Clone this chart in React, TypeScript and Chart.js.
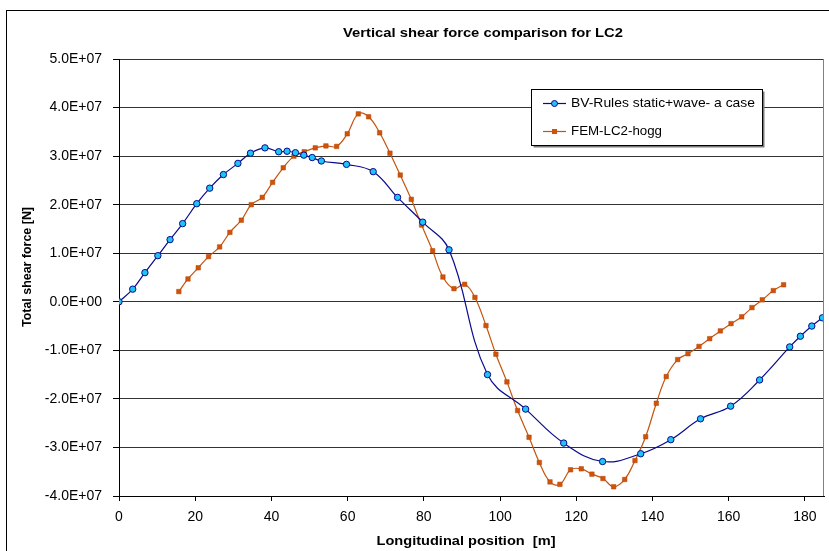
import React, { useEffect, useRef } from "react";
import { Chart, registerables } from "chart.js";

Chart.register(...registerables);

const chartTitle = "Vertical shear force comparison for LC2";
const xTitle = "Longitudinal position  [m]";
const yTitle = "Total shear force [N]";
const bvName = "BV-Rules static+wave- a case";
const femName = "FEM-LC2-hogg";

const bvX = [0, 3.6, 6.8, 10.2, 13.4, 16.7, 20.4, 23.8, 27.4, 31.2, 34.5, 38.3, 41.9, 44.1, 46.3, 48.5, 50.7, 53.1, 59.7, 66.7, 73.1, 79.7, 86.6, 96.7, 106.7, 116.7, 126.9, 136.9, 144.8, 152.6, 160.5, 168.1, 176.0, 178.8, 181.8, 184.6];
const bvY = [0, 2.6e6, 6.0e6, 9.5e6, 12.8e6, 16.1e6, 20.2e6, 23.4e6, 26.2e6, 28.5e6, 30.6e6, 31.7e6, 30.9e6, 31.0e6, 30.7e6, 30.2e6, 29.7e6, 29.0e6, 28.3e6, 26.8e6, 21.5e6, 16.4e6, 10.7e6, -15.0e6, -22.1e6, -29.1e6, -32.9e6, -31.3e6, -28.4e6, -24.1e6, -21.5e6, -16.1e6, -9.3e6, -7.1e6, -5.0e6, -3.3e6];

const femX = [15.7, 18.1, 20.8, 23.5, 26.4, 29.1, 32.1, 34.7, 37.6, 40.3, 43.1, 45.9, 48.6, 51.5, 54.3, 57.1, 59.9, 62.8, 65.5, 68.4, 71.1, 73.8, 76.7, 79.4, 82.3, 85.0, 87.9, 90.7, 93.4, 96.3, 98.9, 101.8, 104.6, 107.6, 110.3, 113.1, 115.7, 118.5, 121.3, 124.1, 127.0, 129.8, 132.7, 135.4, 138.2, 141.0, 143.6, 146.6, 149.3, 152.2, 155.0, 157.8, 160.6, 163.4, 166.1, 168.8, 171.7, 174.4];
const femY = [2.1e6, 4.7e6, 7.0e6, 9.3e6, 11.3e6, 14.3e6, 16.8e6, 20.0e6, 21.5e6, 24.6e6, 27.6e6, 30.0e6, 30.9e6, 31.7e6, 32.1e6, 32.0e6, 34.6e6, 38.7e6, 38.1e6, 34.8e6, 30.6e6, 26.1e6, 21.1e6, 15.8e6, 10.5e6, 5.1e6, 2.7e6, 3.6e6, 0.9e6, -4.9e6, -10.8e6, -16.5e6, -22.4e6, -27.9e6, -33.1e6, -37.1e6, -37.6e6, -34.6e6, -34.4e6, -35.5e6, -36.4e6, -38.1e6, -36.6e6, -32.7e6, -27.8e6, -20.9e6, -15.4e6, -11.9e6, -10.7e6, -9.2e6, -7.6e6, -6.0e6, -4.5e6, -3.1e6, -1.2e6, 0.4e6, 2.3e6, 3.5e6];

const xMin = 0;
const xMax = 185;
const xStep = 20;
const yMin = -4e7;
const yMax = 5e7;
const yStep = 1e7;

const BV_LINE = "#0a0a8c";
const BV_FILL = "#1ec4f4";
const FEM_LINE = "#c4540e";
const FEM_FILL = "#cf5308";
const FONT = "'Liberation Sans', Arial, sans-serif";

function sci(v: number): string {
  if (v === 0) return "0.0E+00";
  const e = Math.floor(Math.log10(Math.abs(v)) + 1e-9);
  const m = v / Math.pow(10, e);
  const es = (e < 0 ? "-" : "+") + String(Math.abs(e)).padStart(2, "0");
  return m.toFixed(1) + "E" + es;
}

function fitText(ctx: CanvasRenderingContext2D, text: string, x: number, y: number, font: string, width: number, align: CanvasTextAlign, rot = 0) {
  ctx.save();
  ctx.font = font;
  const m = ctx.measureText(text).width;
  ctx.translate(x, y);
  if (rot) ctx.rotate(rot);
  ctx.scale(width / m, 1);
  ctx.textAlign = align;
  ctx.textBaseline = "middle";
  ctx.fillStyle = "#000";
  ctx.fillText(text, 0, 0);
  ctx.restore();
}

const decorPlugin = {
  id: "decor",
  beforeDraw(chart: any) {
    const ctx = chart.ctx;
    ctx.save();
    ctx.fillStyle = "#fff";
    ctx.fillRect(0, 0, chart.width, chart.height);
    ctx.restore();
  },
  afterDraw(chart: any) {
    const ctx: CanvasRenderingContext2D = chart.ctx;
    const a = chart.chartArea;
    ctx.save();
    ctx.strokeStyle = "#808080";
    ctx.lineWidth = 1;
    ctx.beginPath();
    ctx.moveTo(Math.round(a.right) - 0.5, a.top);
    ctx.lineTo(Math.round(a.right) - 0.5, a.bottom);
    ctx.stroke();
    ctx.strokeStyle = "#000";
    ctx.strokeRect(6.5, 10.5, 1000, 1000);
    ctx.restore();

    fitText(ctx, chartTitle, 483, 33, `bold 13px ${FONT}`, 280, "center");
    fitText(ctx, xTitle, 466, 541, `bold 13px ${FONT}`, 179, "center");
    fitText(ctx, yTitle, 28, 267, `bold 12.5px ${FONT}`, 120, "center", -Math.PI / 2);

    const lx = 531.5, ly = 89.5, lw = 231, lh = 56;
    ctx.save();
    ctx.fillStyle = "#7a7a7a";
    ctx.fillRect(lx + 2, ly + 2, lw, lh);
    ctx.fillStyle = "#fff";
    ctx.fillRect(lx, ly, lw, lh);
    ctx.strokeStyle = "#000";
    ctx.lineWidth = 1;
    ctx.strokeRect(lx, ly, lw, lh);
    const rows = [
      { y: 103.5, line: BV_LINE, fill: BV_FILL, shape: "circle", text: bvName, w: 184 },
      { y: 131.5, line: FEM_LINE, fill: FEM_FILL, shape: "rect", text: femName, w: 91 },
    ];
    for (const r of rows) {
      ctx.strokeStyle = r.line;
      ctx.lineWidth = 1.2;
      ctx.beginPath();
      ctx.moveTo(543, r.y);
      ctx.lineTo(566, r.y);
      ctx.stroke();
      ctx.fillStyle = r.fill;
      ctx.strokeStyle = r.line;
      ctx.lineWidth = 1;
      if (r.shape === "circle") {
        ctx.beginPath();
        ctx.arc(554.5, r.y, 3, 0, Math.PI * 2);
        ctx.fill();
        ctx.stroke();
      } else {
        ctx.fillRect(552, r.y - 2.5, 5, 5);
      }
      fitText(ctx, r.text, 571, r.y, `13.5px ${FONT}`, r.w, "left");
    }
    ctx.restore();
  },
};

export default function App() {
  const ref = useRef<HTMLCanvasElement | null>(null);
  useEffect(() => {
    if (!ref.current) return;
    const bvData = bvX.map((x, i) => ({ x, y: bvY[i] }));
    const femData = femX.map((x, i) => ({ x, y: femY[i] }));
    const chart = new Chart(ref.current, {
      type: "scatter",
      data: {
        datasets: [
          {
            label: bvName,
            data: bvData,
            showLine: true,
            borderColor: BV_LINE,
            borderWidth: 1.2,
            backgroundColor: BV_FILL,
            pointBackgroundColor: BV_FILL,
            pointBorderColor: BV_LINE,
            pointBorderWidth: 1,
            pointRadius: 3.2,
            pointStyle: "circle",
            tension: 0.4,
          },
          {
            label: femName,
            data: femData,
            showLine: true,
            borderColor: FEM_LINE,
            borderWidth: 1.2,
            backgroundColor: FEM_FILL,
            pointBackgroundColor: FEM_FILL,
            pointBorderColor: "#b4460a",
            pointBorderWidth: 0.5,
            pointRadius: 3.2,
            pointStyle: "rect",
            tension: 0.4,
          },
        ],
      },
      options: {
        animation: false,
        responsive: false,
        layout: { padding: { left: 0, top: 59, right: 3, bottom: 0 } },
        plugins: {
          legend: { display: false },
          title: { display: false },
          tooltip: { enabled: false },
        },
        scales: {
          x: {
            type: "linear",
            min: xMin,
            max: xMax,
            afterFit: (s: any) => { s.height = 55; },
            afterBuildTicks: (s: any) => {
              s.ticks = s.ticks.filter((t: any) => t.value % xStep === 0);
            },
            ticks: {
              stepSize: xStep,
              includeBounds: false,
              maxRotation: 0,
              autoSkip: false,
              padding: 8,
              color: "#000",
              font: { family: FONT, size: 14 },
            },
            grid: {
              drawOnChartArea: false,
              drawTicks: true,
              tickLength: 5,
              tickColor: "#000",
              color: "#000",
            },
            border: { display: true, color: "#000", width: 1 },
          },
          y: {
            type: "linear",
            min: yMin,
            max: yMax,
            afterFit: (s: any) => { s.width = 119; },
            ticks: {
              stepSize: yStep,
              padding: 11,
              color: "#000",
              font: { family: FONT, size: 14 },
              callback: (v: any) => sci(Number(v)),
            },
            grid: {
              drawOnChartArea: true,
              drawTicks: true,
              tickLength: 6,
              tickColor: "#000",
              color: "#333",
              lineWidth: 1,
            },
            border: { display: true, color: "#000", width: 1 },
          },
        },
      },
      plugins: [decorPlugin],
    } as any);
    return () => chart.destroy();
  }, []);
  return (
    <div style={{ position: "fixed", left: 0, top: 0, width: 829, height: 551, background: "#fff" }}>
      <canvas ref={ref} width={829} height={551} style={{ display: "block" }} />
    </div>
  );
}
